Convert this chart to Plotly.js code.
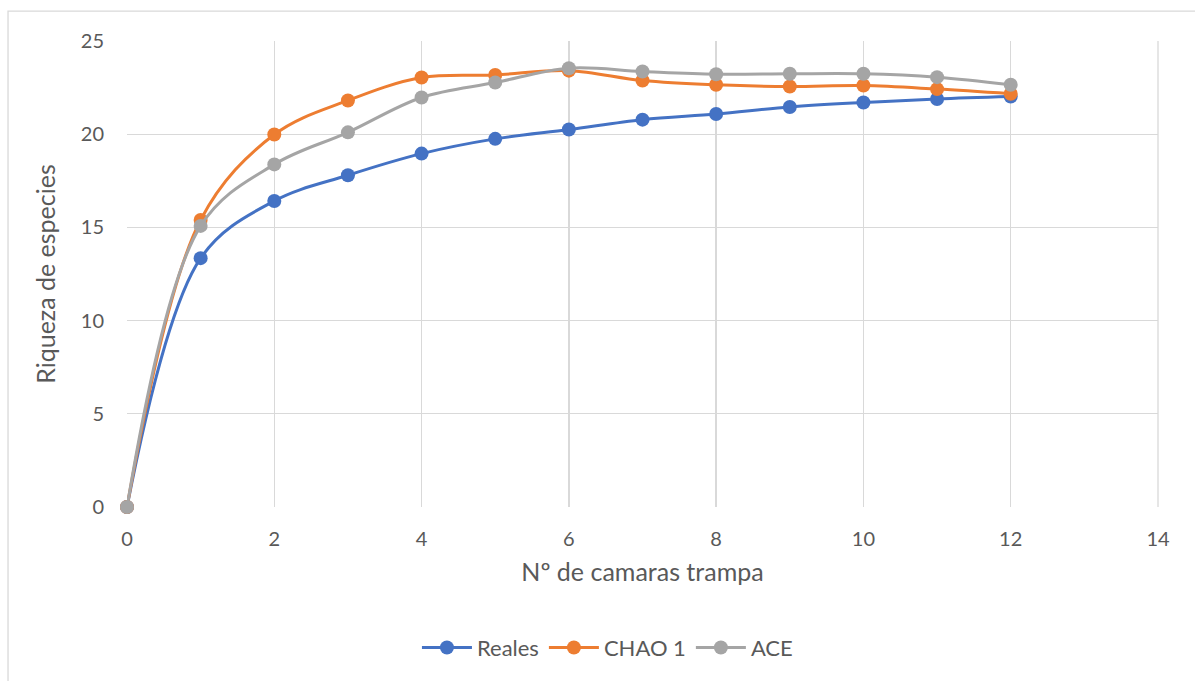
<!DOCTYPE html>
<html>
<head>
<meta charset="utf-8">
<script src="https://cdn.plot.ly/plotly-3.0.1.min.js"></script>
<style>
html,body{margin:0;padding:0;background:#fff;}
#chart{width:1195px;height:681px;}
</style>
</head>
<body>
<div id="chart"></div>
<script>
const camaras = [0,1,2,3,4,5,6,7,8,9,10,11,12];
const reales = [0,13.35,16.42,17.8,18.96,19.75,20.25,20.78,21.08,21.46,21.7,21.89,22.02];
const chao1  = [0,15.4,19.98,21.81,23.04,23.18,23.41,22.88,22.65,22.56,22.61,22.42,22.17];
const ace    = [0,15.08,18.38,20.1,21.97,22.77,23.54,23.36,23.22,23.24,23.24,23.06,22.65];
const seriesNames = ['Reales','CHAO 1','ACE'];
const colors = ['#4472C4','#ED7D31','#A5A5A5'];
const xTitle = 'Nº de camaras trampa';
const yTitle = 'Riqueza de especies';

const FONT = 'Lato, "Open Sans", sans-serif';
const data = [reales, chao1, ace].map((ys, i) => ({
  x: camaras, y: ys, name: seriesNames[i], type: 'scatter', mode: 'lines+markers',
  line: {color: colors[i], width: 3, shape: 'spline', smoothing: 1},
  marker: {color: colors[i], size: 14},
  cliponaxis: false
}));

const layout = {
  width: 1195, height: 681,
  paper_bgcolor: '#fff', plot_bgcolor: '#fff',
  margin: {l: 127, r: 37, t: 41, b: 172},
  font: {family: FONT, color: '#595959', size: 20},
  showlegend: true,
  legend: {orientation: 'h', x: 0.466, xanchor: 'center', y: -0.302, yanchor: 'middle',
           font: {size: 22, color: '#595959'}, itemwidth: 50, traceorder: 'normal'},
  xaxis: {range: [0, 14], dtick: 2, tick0: 0, showgrid: true, gridcolor: '#d9d9d9', gridwidth: 1.3,
          zeroline: false, showline: false, ticks: 'outside', ticklen: 14, tickcolor: 'rgba(0,0,0,0)',
          tickfont: {size: 20, color: '#595959'},
          title: {text: xTitle, font: {size: 25, color: '#595959'}, standoff: 14}},
  yaxis: {range: [0, 25], dtick: 5, tick0: 0, showgrid: true, gridcolor: '#d9d9d9', gridwidth: 1.3,
          zeroline: false, showline: false, ticks: 'outside', ticklen: 18, tickcolor: 'rgba(0,0,0,0)',
          tickfont: {size: 20, color: '#595959'},
          title: {text: yTitle, font: {size: 25, color: '#595959'}, standoff: 18}},
  shapes: [{type: 'rect', xref: 'paper', yref: 'paper', x0: -0.1154, x1: 1.06, y0: -0.40, y1: 1.0641,
            line: {color: '#d9d9d9', width: 1.3}, fillcolor: 'rgba(0,0,0,0)', layer: 'below'},
           {type: 'line', xref: 'paper', yref: 'paper', x0: 1, x1: 1, y0: 0, y1: 1,
            line: {color: '#d9d9d9', width: 1.3}, layer: 'below'}]
};

Plotly.newPlot('chart', data, layout, {displayModeBar: false, staticPlot: true});
</script>
</body>
</html>
